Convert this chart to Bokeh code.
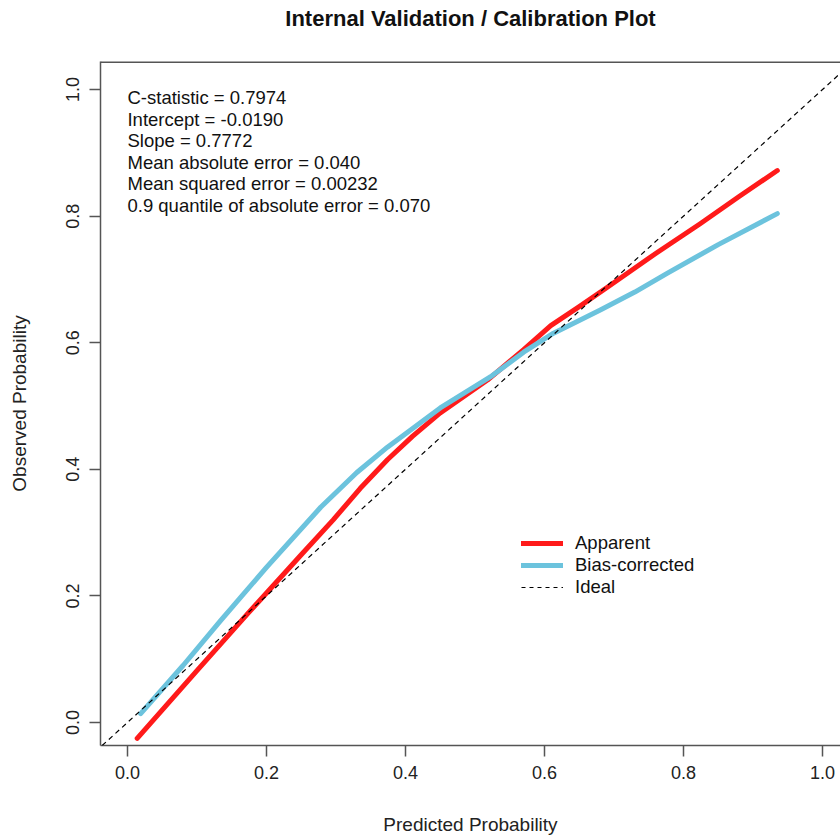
from bokeh.plotting import figure
from bokeh.models import Range1d, Slope, Label, Legend, LegendItem, Span, FixedTicker, Title
from bokeh.embed import file_html
from bokeh.resources import INLINE

# ---- data ----
apparent_x = [0.014, 0.10, 0.173, 0.25, 0.296, 0.335, 0.374, 0.41, 0.45, 0.518, 0.57, 0.609, 0.65, 0.691, 0.76, 0.824, 0.88, 0.935]
apparent_y = [-0.025, 0.082, 0.172, 0.265, 0.320, 0.370, 0.415, 0.452, 0.489, 0.541, 0.589, 0.627, 0.657, 0.688, 0.741, 0.788, 0.831, 0.872]

bias_x = [0.019, 0.08, 0.134, 0.2, 0.278, 0.33, 0.374, 0.45, 0.522, 0.57, 0.613, 0.65, 0.681, 0.73, 0.777, 0.85, 0.935]
bias_y = [0.014, 0.09, 0.161, 0.245, 0.340, 0.395, 0.435, 0.497, 0.546, 0.585, 0.615, 0.635, 0.652, 0.68, 0.71, 0.755, 0.804]

ticks = [0.0, 0.2, 0.4, 0.6, 0.8, 1.0]
title_text = "Internal Validation / Calibration Plot"
stats_lines = [
    "C-statistic = 0.7974",
    "Intercept = -0.0190",
    "Slope = 0.7772",
    "Mean absolute error = 0.040",
    "Mean squared error = 0.00232",
    "0.9 quantile of absolute error = 0.070",
]
legend_labels = ["Apparent", "Bias-corrected", "Ideal"]

FONT = "Liberation Sans"
RED = "#FF1A1A"
BLUE = "#6CC3DD"
AX = "#555555"
TXT = "18.5px"

p = figure(width=840, height=837, output_backend="svg", toolbar_location=None,
           x_range=Range1d(-0.0388, 1.0259), y_range=Range1d(-0.0364, 1.0443),
           min_border_left=100, min_border_right=0, min_border_top=0, min_border_bottom=92)

# title, with an empty spacer title between it and the box
p.title = Title(text=title_text, align="center", vertical_align="top", text_font=FONT,
                text_font_size="22px", text_font_style="bold", text_color="#111111",
                offset=0, standoff=10)
p.add_layout(Title(text=" ", text_font_size="12px", standoff=8), "above")

p.grid.visible = False
p.outline_line_color = None
p.background_fill_color = "white"
p.border_fill_color = "white"

for ax in (p.xaxis[0], p.yaxis[0]):
    ax.ticker = FixedTicker(ticks=ticks)
    ax.minor_tick_line_color = None
    ax.axis_line_color = AX
    ax.axis_line_width = 1.5
    ax.major_tick_line_color = AX
    ax.major_tick_line_width = 1.5
    ax.major_tick_in = 0
    ax.major_tick_out = 11
    ax.major_label_text_font = FONT
    ax.major_label_text_font_size = "18px"
    ax.major_label_text_color = "#222222"
    ax.axis_label_text_font = FONT
    ax.axis_label_text_font_size = "19px"
    ax.axis_label_text_font_style = "normal"
    ax.axis_label_text_color = "#222222"

p.xaxis.major_label_overrides = {t: f"{t:.1f}" for t in ticks}
p.yaxis.major_label_overrides = {t: f"{t:.1f}" for t in ticks}
p.xaxis.axis_label = "Predicted Probability"
p.yaxis.axis_label = "Observed Probability"
p.xaxis.major_label_standoff = 9
p.xaxis.axis_label_standoff = 32
p.yaxis.major_label_orientation = "vertical"
p.yaxis.major_label_standoff = 10
p.yaxis.axis_label_standoff = 34

# top border of the box
p.add_layout(Span(location=1.0443, dimension="width", line_color=AX, line_width=3))

# ideal line
ideal = Slope(gradient=1, y_intercept=0, line_color="black", line_width=1.2, line_dash="5 4")
p.add_layout(ideal)
ideal_proxy = p.line(x=[float("nan")], y=[float("nan")], line_color="black", line_width=1.2, line_dash="4 4")

r_app = p.line(apparent_x, apparent_y, line_color=RED, line_width=5, line_cap="round", line_join="round")
r_bias = p.line(bias_x, bias_y, line_color=BLUE, line_width=5, line_cap="round", line_join="round")

# statistics text
for i, t in enumerate(stats_lines):
    p.add_layout(Label(x=0.0, y=0.987 - i * 0.034, text=t, text_font=FONT, text_font_size=TXT,
                       text_baseline="middle", text_color="#111111"))

legend = Legend(items=[LegendItem(label=legend_labels[0], renderers=[r_app]),
                       LegendItem(label=legend_labels[1], renderers=[r_bias]),
                       LegendItem(label=legend_labels[2], renderers=[ideal_proxy])],
                location=(421, 147), border_line_color=None, background_fill_alpha=0,
                padding=0, margin=0, spacing=0, glyph_width=42, glyph_height=20,
                label_height=20, label_standoff=12, label_text_font=FONT,
                label_text_font_size=TXT, label_text_color="#111111")
p.add_layout(legend)

open("out.html", "w").write(file_html(p, INLINE))
